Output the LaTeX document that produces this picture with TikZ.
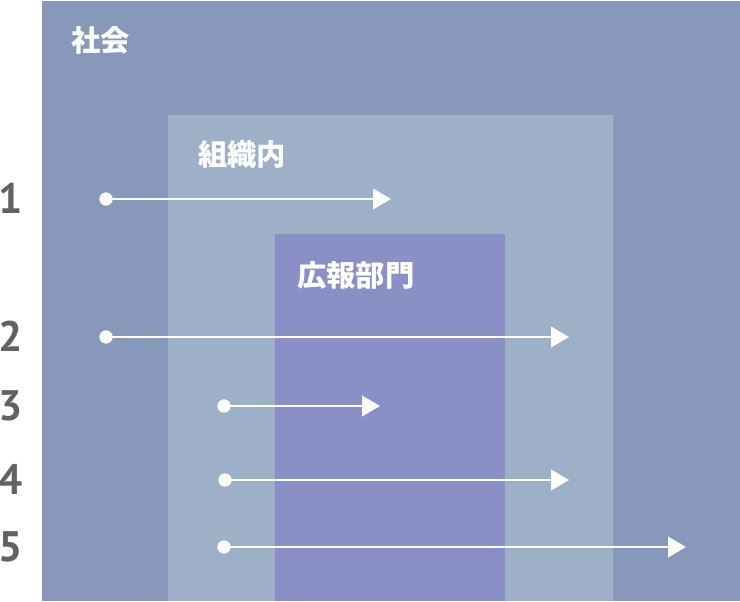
\documentclass[tikz,border=0pt]{standalone}
\usepackage{fontspec}
\newfontfamily\cjk{Noto Sans CJK JP}
\newfontfamily\numfont{PT Sans}
\usetikzlibrary{arrows.meta}
\definecolor{outerc}{HTML}{8898BA}
\definecolor{midc}{HTML}{9EAFC8}
\definecolor{innerc}{HTML}{8A8FC5}
\definecolor{numc}{HTML}{626262}
\tikzset{
  area/.style={inner sep=0pt, outer sep=0pt},
  lbl/.style={anchor=west, inner sep=0pt, text=white, font=\cjk\bfseries\fontsize{22pt}{22pt}\selectfont},
  num/.style={anchor=center, inner sep=0pt, text=numc, font=\numfont\bfseries\fontsize{32pt}{32pt}\selectfont},
  flow/.style={draw=white, line width=1.5pt, -{Triangle[length=13.5pt,width=15.5pt]}},
  dotc/.style={circle, fill=white, inner sep=0pt, minimum size=10pt},
}
\begin{document}
\begin{tikzpicture}[x=0.75pt,y=-0.75pt]
\useasboundingbox (0,0) rectangle (740,602);
% areas
\fill[outerc] (42,1) rectangle (740,601);
\fill[midc] (168,115) rectangle (613,601);
\fill[innerc] (275,234) rectangle (505,601);
% labels
\node[lbl] (shakai) at (71,40) {社会};
\node[lbl] (soshiki) at (198,154) {組織内};
\node[lbl] (kouhou) at (297,275) {広報部門};
% numbers
\node[num] (n1) at (11,198) {1};
\node[num] (n2) at (11,336) {2};
\node[num] (n3) at (11,406) {3};
\node[num] (n4) at (11,479) {4};
\node[num] (n5) at (11,547) {5};
% arrows
\node[dotc] (s1) at (106,199) {};
\node[dotc] (s2) at (106,337) {};
\node[dotc] (s3) at (224,406) {};
\node[dotc] (s4) at (225,480) {};
\node[dotc] (s5) at (224,547) {};
\coordinate (e1) at (391,199);
\coordinate (e2) at (569,337);
\coordinate (e3) at (380,406);
\coordinate (e4) at (569,480);
\coordinate (e5) at (686,547);
\draw[flow] (s1.center) -- (e1);
\draw[flow] (s2.center) -- (e2);
\draw[flow] (s3.center) -- (e3);
\draw[flow] (s4.center) -- (e4);
\draw[flow] (s5.center) -- (e5);
\end{tikzpicture}
\end{document}
